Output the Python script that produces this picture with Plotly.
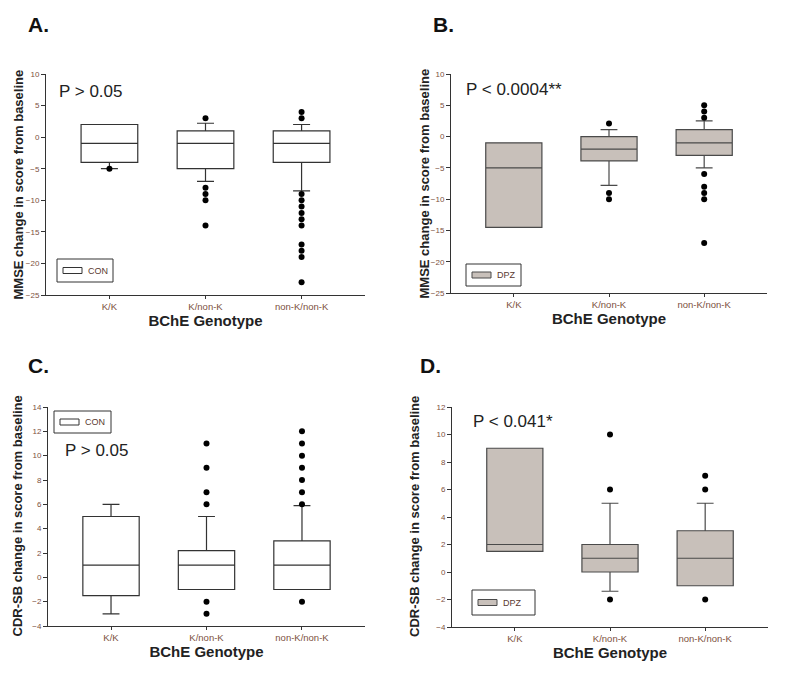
import plotly.graph_objects as go

# The page body has an 8px default margin, so the figure is sized to fit inside it.
OFF = 8
W, H = 800 - 2 * OFF, 684 - 2 * OFF
categories = ["K/K", "K/non-K", "non-K/non-K"]

# Panel A (MMSE, CON)
a_q1 = [-4, -5, -4]
a_med = [-1, -1, -1]
a_q3 = [2, 1, 1]
a_lo = [-5, -7, -8.5]
a_hi = [2, 2.2, 2]
a_out_x = [0, 1, 1, 1, 1, 1, 2, 2, 2, 2, 2, 2, 2, 2, 2, 2, 2, 2]
a_out_y = [-5, 3, -8, -9, -10, -14, 4, 3, -9, -10, -11, -12, -13, -14, -17, -18, -19, -23]

# Panel B (MMSE, DPZ)
b_q1 = [-14.5, -3.9, -3]
b_med = [-5, -2, -1]
b_q3 = [-1, 0, 1.1]
b_lo = [-14.5, -7.8, -5]
b_hi = [-1, 1.1, 2.5]
b_out_x = [1, 1, 1, 2, 2, 2, 2, 2, 2, 2, 2]
b_out_y = [2.1, -9, -10, 5, 4, 3, -6, -8, -9, -10, -17]

# Panel C (CDR-SB, CON)
c_q1 = [-1.5, -1, -1]
c_med = [1, 1, 1]
c_q3 = [5, 2.2, 3]
c_lo = [-3, -1, -1]
c_hi = [6, 5, 5.9]
c_out_x = [1, 1, 1, 1, 1, 1, 2, 2, 2, 2, 2, 2, 2, 2]
c_out_y = [11, 9, 7, 6, -2, -3, 12, 11, 10, 9, 8, 7, 6, -2]

# Panel D (CDR-SB, DPZ)
d_q1 = [1.5, 0, -1]
d_med = [2, 1, 1]
d_q3 = [9, 2, 3]
d_lo = [1.5, -1.4, -1]
d_hi = [9, 5, 5]
d_out_x = [1, 1, 1, 2, 2, 2]
d_out_y = [10, 6, -2, 7, 6, -2]

TICKC = "#7d5040"
FONT = "Liberation Sans, Arial, sans-serif"

def px(x):
    return (x - OFF) / W

def py(y):
    return 1 - (y - OFF) / H

panels = [
    dict(q1=a_q1, med=a_med, q3=a_q3, lo=a_lo, hi=a_hi, ox=a_out_x, oy=a_out_y,
         fill="white", line="#333333", xd=(46, 365), yd=(74, 295), yr=(-25, 10), dt=5,
         ytitle="MMSE change in score from baseline", letter="A.", lpos=(26, 25),
         ptxt="P > 0.05", ppos=(57, 91), leg="CON", legbox=(57, 259, 113, 282), ytx=18),
    dict(q1=b_q1, med=b_med, q3=b_q3, lo=b_lo, hi=b_hi, ox=b_out_x, oy=b_out_y,
         fill="#c8c0ba", line="#4a4a4a", xd=(451, 767), yd=(74, 293), yr=(-25, 10), dt=5,
         ytitle="MMSE change in score from baseline", letter="B.", lpos=(431, 25),
         ptxt="P < 0.0004**", ppos=(464, 89), leg="DPZ", legbox=(466, 264, 521, 286), ytx=424),
    dict(q1=c_q1, med=c_med, q3=c_q3, lo=c_lo, hi=c_hi, ox=c_out_x, oy=c_out_y,
         fill="white", line="#333333", xd=(48, 365), yd=(407, 626), yr=(-4, 14), dt=2,
         ytitle="CDR-SB change in score from baseline", letter="C.", lpos=(26, 366),
         ptxt="P > 0.05", ppos=(63, 450), leg="CON", legbox=(54, 411, 111, 433), ytx=17),
    dict(q1=d_q1, med=d_med, q3=d_q3, lo=d_lo, hi=d_hi, ox=d_out_x, oy=d_out_y,
         fill="#c8c0ba", line="#4a4a4a", xd=(452, 768), yd=(407, 627), yr=(-4, 12), dt=2,
         ytitle="CDR-SB change in score from baseline", letter="D.", lpos=(418, 366),
         ptxt="P < 0.041*", ppos=(471, 422), leg="DPZ", legbox=(472, 590, 535, 615), ytx=414),
]

fig = go.Figure()
layout = dict(
    template="none",
    width=W, height=H, margin=dict(l=0, r=0, t=0, b=0, pad=0, autoexpand=False),
    paper_bgcolor="white", plot_bgcolor="white", showlegend=False,
    font=dict(family=FONT, color="#222"),
)
annotations = []
shapes = []

for i, p in enumerate(panels):
    n = "" if i == 0 else str(i + 1)
    xa, ya = "x" + n, "y" + n
    fig.add_trace(go.Box(
        x=[0, 1, 2], q1=p["q1"], median=p["med"], q3=p["q3"],
        lowerfence=p["lo"], upperfence=p["hi"], width=0.59, whiskerwidth=0.3,
        fillcolor=p["fill"], line=dict(color=p["line"], width=1.2),
        boxpoints=False, xaxis=xa, yaxis=ya, hoverinfo="skip",
    ))
    fig.add_trace(go.Scatter(
        x=p["ox"], y=p["oy"], mode="markers",
        marker=dict(color="black", size=6), xaxis=xa, yaxis=ya, hoverinfo="skip",
    ))
    x0, x1 = p["xd"]
    y0, y1 = p["yd"]
    layout["xaxis" + n] = dict(
        domain=[px(x0), px(x1)], range=[-0.66, 2.66], anchor=ya, automargin=False,
        tickvals=[0, 1, 2], ticktext=categories, ticks="outside", ticklen=3,
        tickcolor="#333", showline=True, linecolor="#333", linewidth=1,
        showgrid=False, zeroline=False,
        tickfont=dict(size=9.5, color=TICKC, family=FONT),
        title=dict(text="<b>BChE Genotype</b>", font=dict(size=15, color="#222", family=FONT), standoff=4),
    )
    layout["yaxis" + n] = dict(
        domain=[py(y1), py(y0)], range=list(p["yr"]), anchor=xa, automargin=False,
        dtick=p["dt"], ticks="outside", ticklen=4, tickcolor="#333",
        showline=True, linecolor="#333", linewidth=1, showgrid=False, zeroline=False,
        tickfont=dict(size=8, color=TICKC, family=FONT),
    )
    annotations.append(dict(
        text="<b>" + p["ytitle"] + "</b>", x=px(p["ytx"]), y=py((y0 + y1) / 2),
        xref="paper", yref="paper", textangle=-90, showarrow=False,
        font=dict(size=13, color="#222", family=FONT), xanchor="center", yanchor="middle",
    ))
    annotations.append(dict(
        text="<b>" + p["letter"] + "</b>", x=px(p["lpos"][0]), y=py(p["lpos"][1]),
        xref="paper", yref="paper", showarrow=False, xanchor="left", yanchor="middle",
        font=dict(size=21, color="#111", family=FONT),
    ))
    annotations.append(dict(
        text=p["ptxt"], x=px(p["ppos"][0]), y=py(p["ppos"][1]),
        xref="paper", yref="paper", showarrow=False, xanchor="left", yanchor="middle",
        font=dict(size=17, color="#222", family=FONT),
    ))
    bx0, by0, bx1, by1 = p["legbox"]
    shapes.append(dict(type="rect", xref="paper", yref="paper",
                       x0=px(bx0), x1=px(bx1), y0=py(by1), y1=py(by0),
                       line=dict(color="#333", width=1), fillcolor="white"))
    cy = (by0 + by1) / 2
    shapes.append(dict(type="rect", xref="paper", yref="paper",
                       x0=px(bx0 + 6), x1=px(bx0 + 25), y0=py(cy + 3), y1=py(cy - 3),
                       line=dict(color=p["line"], width=1), fillcolor=p["fill"]))
    annotations.append(dict(
        text=p["leg"], x=px(bx0 + 29), y=py(cy), xref="paper", yref="paper",
        showarrow=False, xanchor="left", yanchor="middle",
        font=dict(size=9, color="#5a3a30", family=FONT),
    ))

layout["annotations"] = annotations
layout["shapes"] = shapes
fig.update_layout(**layout)
fig.write_html("out.html")
